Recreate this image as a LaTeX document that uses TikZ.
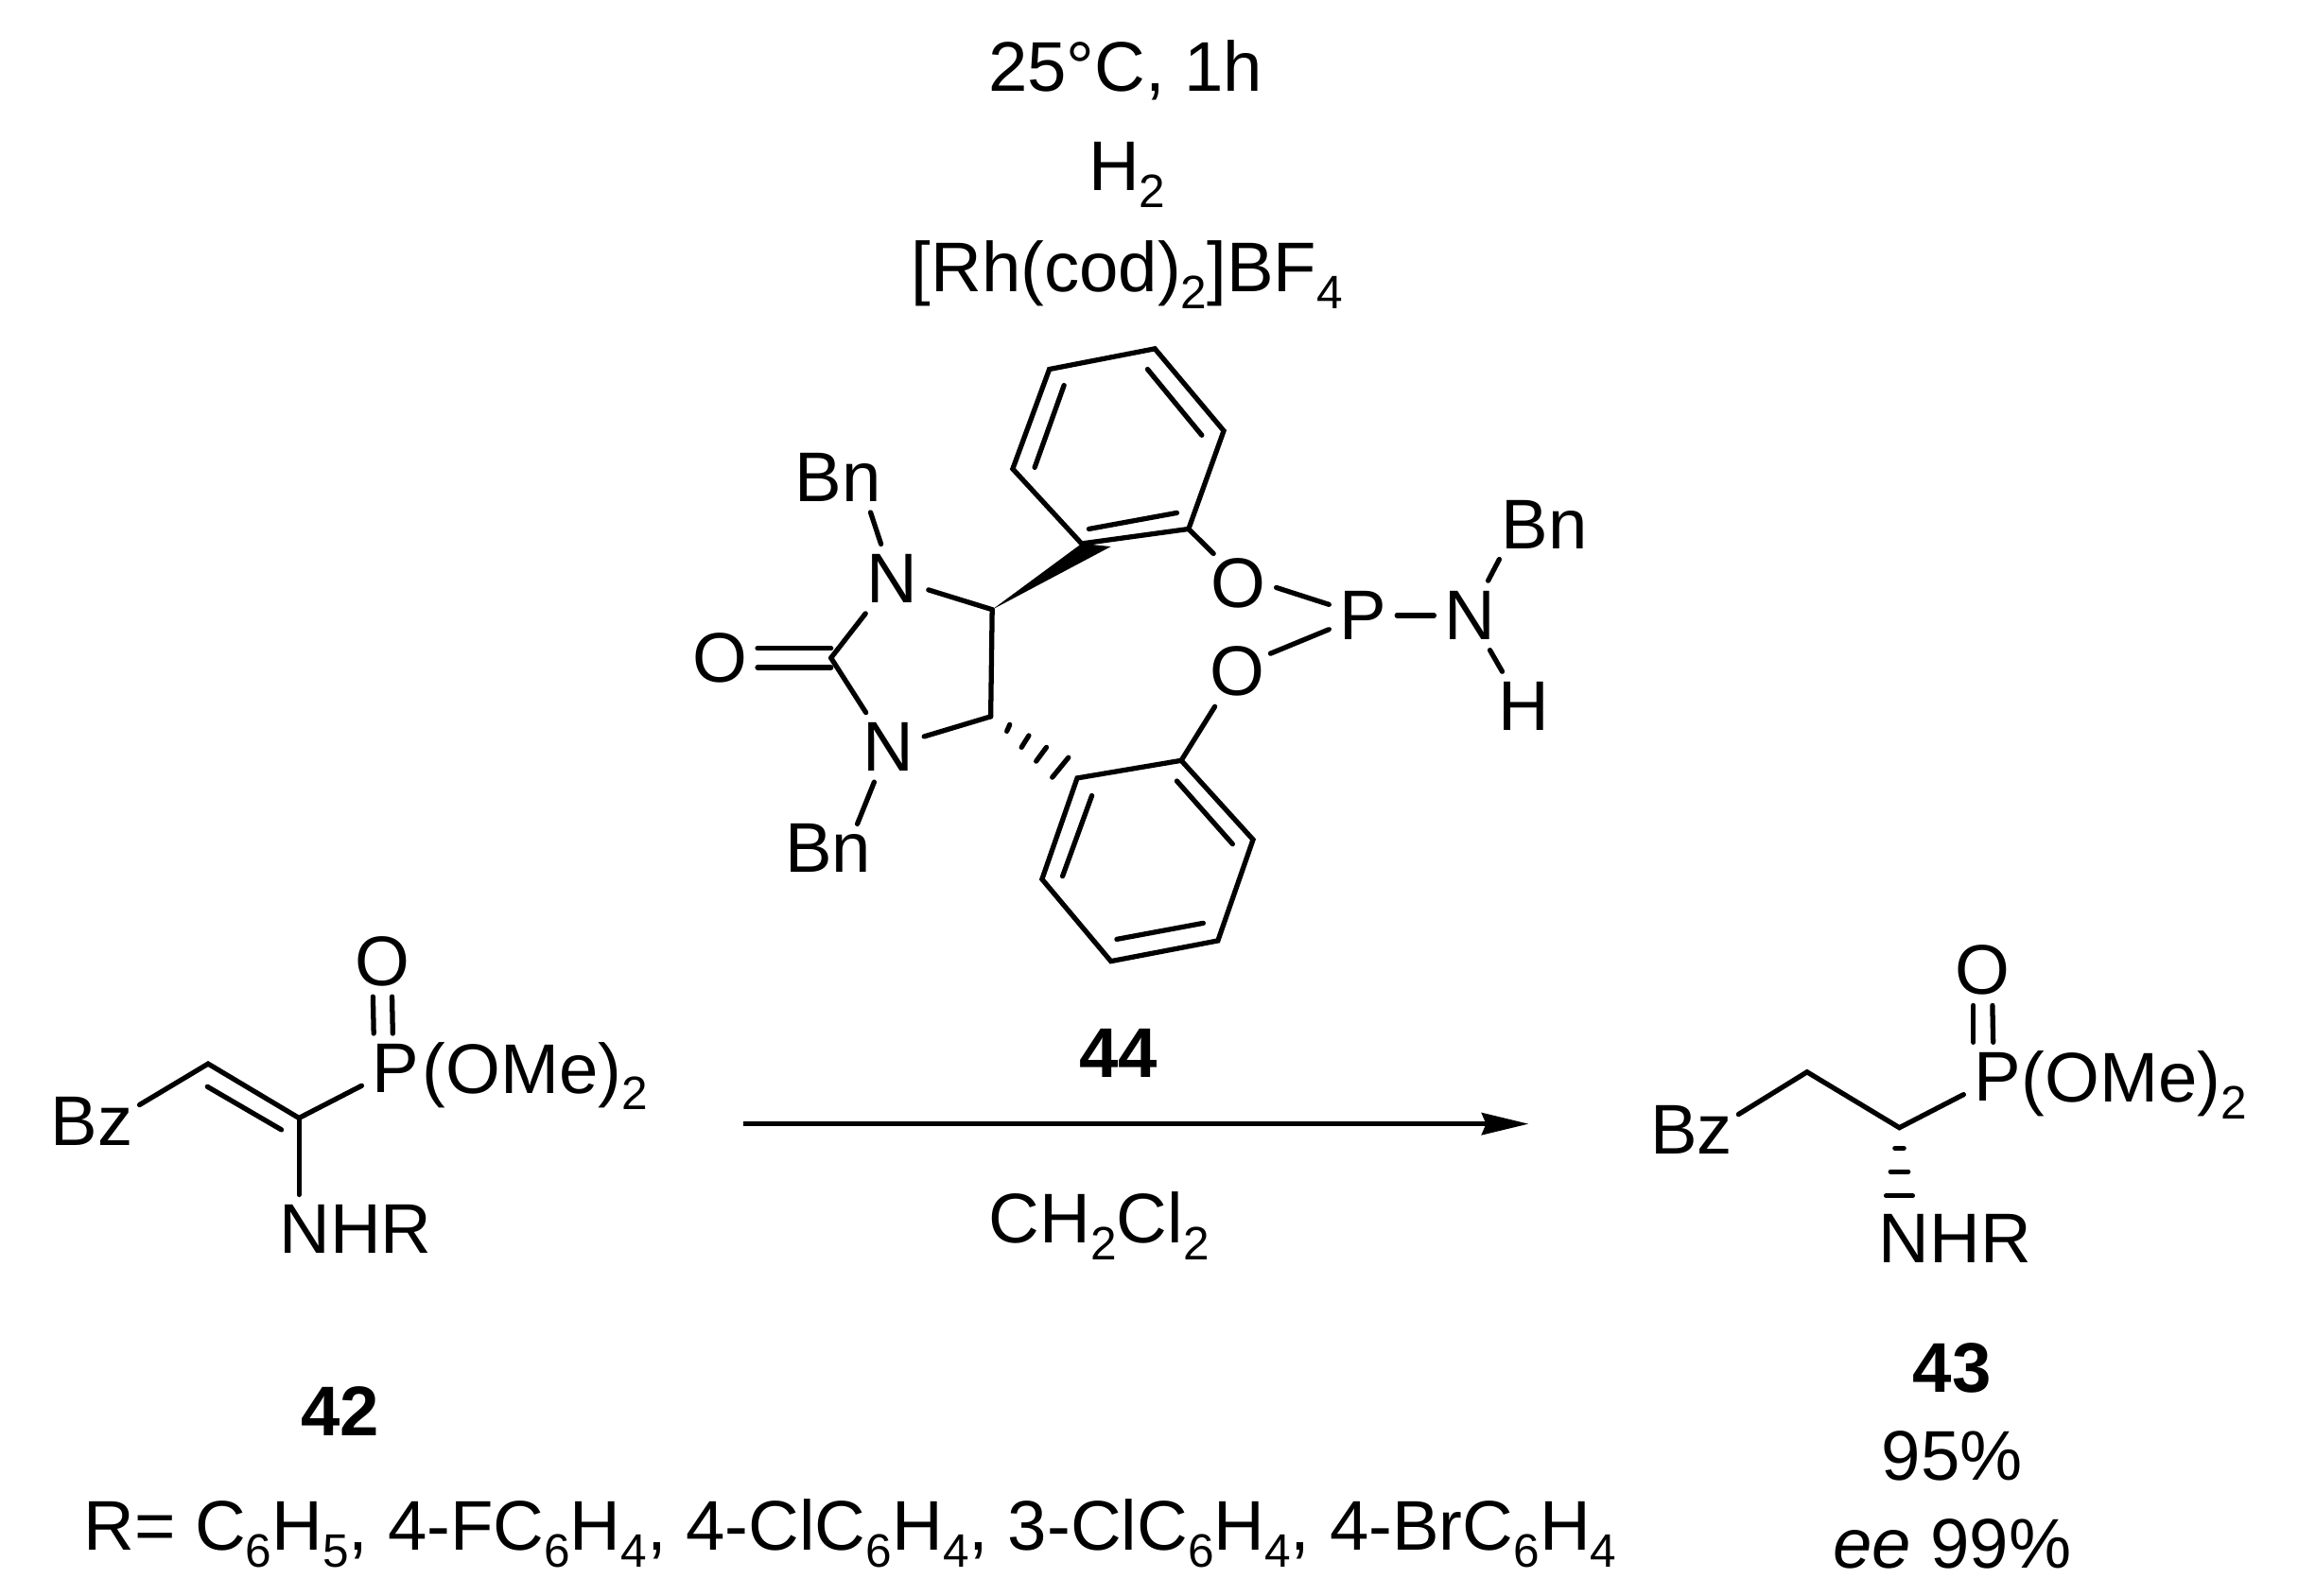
\documentclass[tikz,border=0pt]{standalone}
\usepackage{fontspec}
\setmainfont{Liberation Sans}
\usetikzlibrary{arrows.meta}
\tikzset{  atom/.style={inner sep=7pt},
  txt/.style={inner sep=0pt,anchor=base},
  bond/.style={line width=3.4pt,line cap=round} }
\newcommand{\sbs}[1]{\raisebox{-11.5pt}{\fontsize{32}{32}\selectfont #1}}

\begin{document}
\begin{tikzpicture}[x=1pt,y=-1pt,font=\fontsize{48}{58}\selectfont,>={Stealth[length=32pt,width=15pt,inset=3pt]}]
  \useasboundingbox (0,0) rectangle (1568,1089);
  % conditions
  \node[txt] (cond1) at (768,62) {25°C, 1h};
  \node[txt] (cond2) at (769,130) {H\sbs{2}};
  \node[txt] (cond3) at (769,199) {[Rh(cod)\sbs{2}]BF\sbs{4}};
  % ligand
  \coordinate (r1a) at (788,238);
  \coordinate (r1b) at (835,294);
  \coordinate (r1c) at (811,361);
  \coordinate (r1d) at (738,371);
  \coordinate (r1e) at (691,320);
  \coordinate (r1f) at (716,252);
  \coordinate (s1a) at (783,252);
  \coordinate (s1b) at (820,297);
  \coordinate (s1c) at (803,350);
  \coordinate (s1d) at (743,361);
  \coordinate (s1e) at (706,319);
  \coordinate (s1f) at (726,263);
  \coordinate (r2a) at (735,531);
  \coordinate (r2b) at (806,519);
  \coordinate (r2c) at (855,573);
  \coordinate (r2d) at (831,642);
  \coordinate (r2e) at (758,656);
  \coordinate (r2f) at (711,600);
  \coordinate (s2a) at (803,533);
  \coordinate (s2b) at (841,576);
  \coordinate (s2c) at (821,630);
  \coordinate (s2d) at (762,641);
  \coordinate (s2e) at (725,598);
  \coordinate (s2f) at (745,543);
  \coordinate (c4) at (677,416);
  \coordinate (c5) at (676,489);
  \coordinate (c2) at (567,449);
  \coordinate (w1) at (758,373);
  \node[atom] (n1) at (609,395) {N};
  \node[atom] (n2) at (606,510) {N};
  \node[atom] (o3) at (491,449) {O};
  \node[atom] (bn1) at (572,326) {Bn};
  \node[atom] (bn2) at (565,579) {Bn};
  \node[atom] (o1) at (845,398) {O};
  \node[atom] (o2) at (844,458) {O};
  \node[atom] (p3) at (930,420) {P};
  \node[atom] (n3) at (1003,420) {N};
  \node[atom] (bn3) at (1054,358) {Bn};
  \node[atom] (h3) at (1040,482) {H};
  \draw[bond] (r1a) -- (r1b) -- (r1c) -- (r1d) -- (r1e) -- (r1f) -- cycle;
  \draw[bond] (s1a) -- (s1b);
  \draw[bond] (s1c) -- (s1d);
  \draw[bond] (s1e) -- (s1f);
  \draw[bond] (r2a) -- (r2b) -- (r2c) -- (r2d) -- (r2e) -- (r2f) -- cycle;
  \draw[bond] (s2a) -- (s2b);
  \draw[bond] (s2c) -- (s2d);
  \draw[bond] (s2e) -- (s2f);
  \fill (c4) -- (r1d) -- (w1) -- cycle;
  \draw[bond] (n1) -- (c4);
  \draw[bond] (c4) -- (c5);
  \draw[bond] (c5) -- (n2);
  \draw[bond] (n2) -- (c2);
  \draw[bond] (c2) -- (n1);
  \draw[bond] ([yshift=6.5]o3.east) -- ([yshift=6.5]c2);
  \draw[bond] ([yshift=-6.5]o3.east) -- ([yshift=-6.5]c2);
  \draw[bond] (n1) -- ([xshift=22]bn1.south);
  \draw[bond] (n2) -- ([xshift=20,yshift=-7]bn2.north);
  \draw[bond] (r1c) -- ([xshift=-17,yshift=-4]o1.north);
  \draw[bond] ([yshift=-3]o1.east) -- (p3);
  \draw[bond] ([xshift=-3,yshift=12]o2.east) -- (p3);
  \draw[bond] (o2) -- (r2b);
  \draw[bond] (p3) -- (n3);
  \draw[bond] (n3) -- ([xshift=-31]bn3.south);
  \draw[bond] (n3) -- ([xshift=-15]h3.north);
  \coordinate (d1a) at (687,499);
  \coordinate (d1b) at (689,494.5);
  \coordinate (d2a) at (697,510);
  \coordinate (d2b) at (702,502);
  \coordinate (d3a) at (707,519.5);
  \coordinate (d3b) at (714,510);
  \coordinate (d4a) at (718,530.5);
  \coordinate (d4b) at (729,517);
  \draw[bond] (d1a) -- (d1b);
  \draw[bond] (d2a) -- (d2b);
  \draw[bond] (d3a) -- (d3b);
  \draw[bond] (d4a) -- (d4b);
  \node[txt] (lab44) at (763,735) {\textbf{44}};
  % substrate
  \coordinate (a1) at (142,726);
  \coordinate (a2) at (204,763);
  \coordinate (a3) at (141.5,741.6);
  \coordinate (a4) at (192,771);
  \node[atom] (bz1) at (62.5,765.5) {Bz};
  \node[atom] (p1) at (270,729) {P};
  \node[txt,anchor=base west] (ome1) at (288,746) {(OMe)\sbs{2}};
  \node[atom] (oo1) at (261,656) {O};
  \node[atom] (nhr1) at (242.6,839) {NHR};
  \draw[bond] ([xshift=-2.5,yshift=11.5]bz1.east) -- (a1) -- (a2) -- (p1);
  \draw[bond] (a3) -- (a4);
  \draw[bond] (a2) -- ([xshift=-38.6]nhr1.north);
  \draw[bond] ([xshift=-6.5]oo1.south) -- ([xshift=-15]p1.north);
  \draw[bond] ([xshift=6.5]oo1.south) -- ([xshift=-2]p1.north);
  \node[txt] (lab42) at (232,980) {\textbf{42}};
  \node[txt] (lab42r) at (580,1058) {R= C\sbs{6}H\sbs{5}, 4-FC\sbs{6}H\sbs{4}, 4-ClC\sbs{6}H\sbs{4}, 3-ClC\sbs{6}H\sbs{4}, 4-BrC\sbs{6}H\sbs{4}};
  % arrow
  \coordinate (ar1) at (507,767);
  \coordinate (ar2) at (1043,767);
  \draw[->,line width=3pt] (ar1) -- (ar2);
  \node[txt] (solv) at (750,848) {CH\sbs{2}Cl\sbs{2}};
  % product
  \coordinate (b1) at (1233,731.6);
  \coordinate (b2) at (1296,769.6);
  \node[atom] (bz2) at (1154,771) {Bz};
  \node[atom] (p2) at (1363,735) {P};
  \node[txt,anchor=base west] (ome2) at (1379,752) {(OMe)\sbs{2}};
  \node[atom] (oo2) at (1353,662) {O};
  \node[atom] (nhr2) at (1334,845) {NHR};
  \draw[bond] ([xshift=-3,yshift=10.5]bz2.east) -- (b1) -- (b2) -- (p2);
  \draw[bond] ([xshift=-6.5]oo2.south) -- ([xshift=-16.5]p2.north);
  \draw[bond] ([xshift=6.5]oo2.south) -- ([xshift=-3]p2.north);
  \draw[bond] ([shift={(-3,14)}]b2) -- ([shift={(3,14)}]b2);
  \draw[bond] ([shift={(-6,30)}]b2) -- ([shift={(6,30)}]b2);
  \draw[bond] ([shift={(-9,46.5)}]b2) -- ([shift={(9,46.5)}]b2);
  \node[txt] (lab43) at (1332,950) {\textbf{43}};
  \node[txt] (yld) at (1332,1010) {95\%};
  \node[txt] (ee) at (1332,1070) {\textit{ee} 99\%};
\end{tikzpicture}
\end{document}
